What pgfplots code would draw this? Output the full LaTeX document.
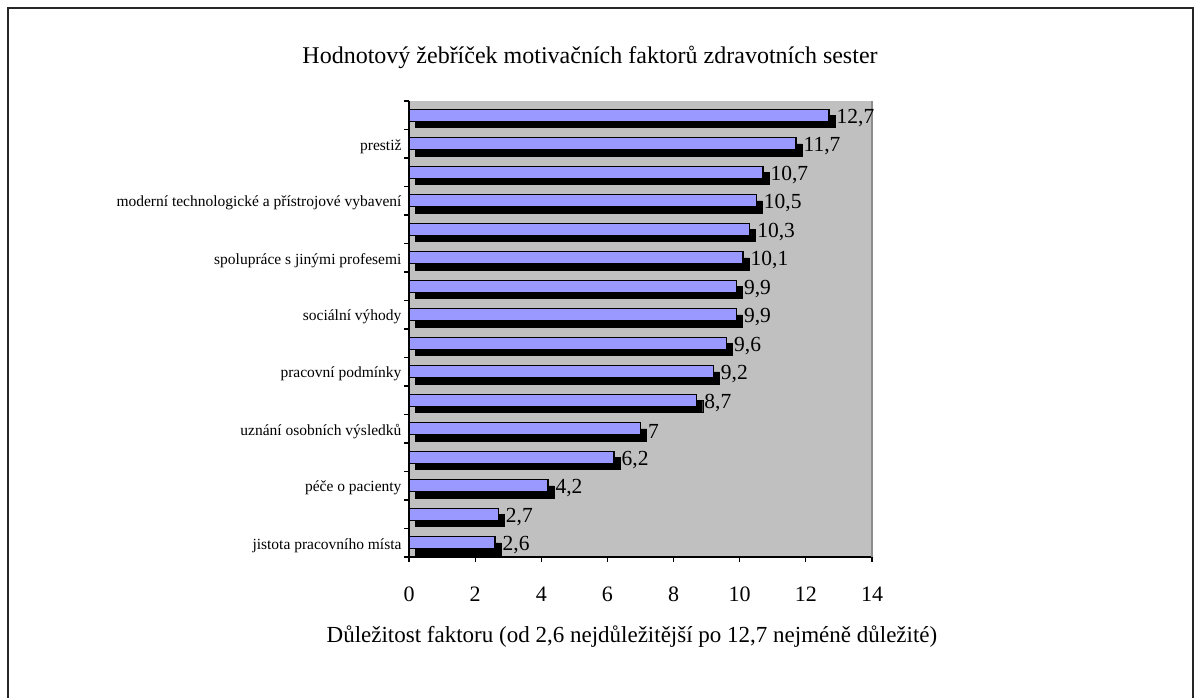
\documentclass[border=0pt]{standalone}
\usepackage{pgfplots}
\pgfplotsset{compat=1.18}
\usepackage{pgfplotstable}
\usepackage{fontspec}
\setmainfont{Liberation Serif}
\definecolor{lav}{HTML}{9999FF}
\definecolor{plotgray}{HTML}{C0C0C0}
\pgfplotstableread{
k v
1 2.6
2 2.7
3 4.2
4 6.2
5 7
6 8.7
7 9.2
8 9.6
9 9.9
10 9.9
11 10.1
12 10.3
13 10.5
14 10.7
15 11.7
16 12.7
}\datatab
\begin{document}
\begin{tikzpicture}
\useasboundingbox (0,0) rectangle (1194pt,-697pt);
\fill[white] (0,0) rectangle (1194pt,-697pt);
\draw[line width=1.8pt, black!85] (8pt,-700pt) -- (8pt,-8pt) -- (1193pt,-8pt) -- (1193pt,-700pt);
\begin{axis}[
  at={(409pt,-557pt)}, anchor=south west,
  scale only axis, width=463pt, height=456pt,
  xbar, bar width=12pt,
  xmin=0, xmax=14, ymin=0.5, ymax=16.5,
  clip=false,
  axis lines*=left,
  axis line style={line width=1.4pt, black},
  axis background/.style={fill=plotgray},
  tick align=outside,
  major tick length=5pt,
  every tick/.style={line width=1.2pt, black},
  xtick={0,2,...,14},
  ytick={0.5,1.5,...,16.5},
  yticklabels={},
  extra y ticks={1,3,5,7,9,11,13,15},
  extra y tick labels={jistota pracovního místa, péče o pacienty, uznání osobních výsledků, pracovní podmínky, sociální výhody, spolupráce s jinými profesemi, moderní technologické a přístrojové vybavení, prestiž},
  extra y tick style={major tick length=0pt, yticklabel style={font=\fontsize{15.5}{17}\selectfont, anchor=east, xshift=-4pt, yshift=-2.5pt}},
  xticklabel style={font=\fontsize{22}{24}\selectfont, anchor=center, yshift=-32pt},
  /pgf/number format/assume math mode=true,
  /pgf/number format/use comma,
  title={Hodnotový žebříček motivačních faktorů zdravotních sester},
  title style={font=\fontsize{24}{27}\selectfont, at={(rel axis cs:0.391,1)}, anchor=center, yshift=38pt},
  xlabel={Důležitost faktoru (od 2,6 nejdůležitější po 12,7 nejméně důležité)},
  xlabel style={font=\fontsize{23}{25}\selectfont, at={(rel axis cs:0.4816,0)}, anchor=center, yshift=-80pt},
]
\addplot[bar shift=0pt, fill=black, draw=black, xshift=6pt, yshift=-6pt] table[x=v, y=k] {\datatab};
\addplot[bar shift=0pt, fill=lav, draw=black, line width=1.3pt,
  nodes near coords,
  every node near coord/.append style={font=\fontsize{21.5}{23}\selectfont, anchor=west, inner sep=1pt, xshift=6pt, yshift=-2.5pt, text=black}
] table[x=v, y=k] {\datatab};
\draw[black!45, line width=1.2pt] (rel axis cs:1,0) -- (rel axis cs:1,1);
\end{axis}
\end{tikzpicture}
\end{document}
